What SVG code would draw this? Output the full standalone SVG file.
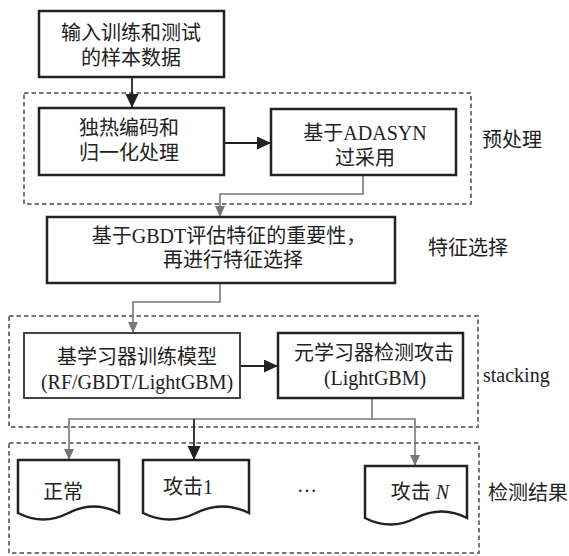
<svg xmlns="http://www.w3.org/2000/svg" width="569" height="556" viewBox="0 0 569 556">
<style>
text{font-family:"Liberation Serif","Noto Sans CJK SC",serif;font-size:20px;fill:#222;text-anchor:middle}
.lbl{text-anchor:start}
.box{fill:#fff;stroke:#222;stroke-width:2.5}
.box5{fill:#fff;stroke:#444;stroke-width:2}
.dash{fill:none;stroke:#777;stroke-width:2;stroke-dasharray:4.5 3}
.gc{fill:none;stroke:#777;stroke-width:1.6}
.bc{fill:none;stroke:#222;stroke-width:1.8}
.doc{fill:#fff;stroke:#222;stroke-width:2.5}
</style>
<defs>
<marker id="ab" markerUnits="userSpaceOnUse" markerWidth="14" markerHeight="14" refX="14" refY="6.5" orient="auto"><path d="M0,0 L14,6.5 L0,13 z" fill="#222"/></marker>
<marker id="ag" markerUnits="userSpaceOnUse" markerWidth="11" markerHeight="10" refX="11" refY="5" orient="auto"><path d="M0,0 L11,5 L0,10 z" fill="#777"/></marker>
</defs>
<g id="groups">
<rect class="dash" x="24" y="93" width="447" height="111"/>
<rect class="dash" x="9" y="316" width="469" height="111"/>
<rect class="dash" x="9" y="443" width="470" height="110"/>
</g>
<g id="connectors">
<line class="bc" x1="132" y1="77" x2="132" y2="108" marker-end="url(#ab)"/>
<line class="bc" x1="224" y1="143" x2="271" y2="143" marker-end="url(#ab)"/>
<polyline class="gc" points="363,175 363,194 220,194 220,217" marker-end="url(#ag)"/>
<polyline class="gc" points="220,283 220,302 133,302 133,333" marker-end="url(#ag)"/>
<line class="bc" x1="240" y1="366" x2="278" y2="366" marker-end="url(#ab)"/>
<polyline class="gc" points="372,398 372,419 69,419 69,460" marker-end="url(#ag)"/>
<polyline class="gc" points="372,419 415,419 415,466" marker-end="url(#ag)"/>
<line class="bc" x1="194" y1="419" x2="194" y2="460" marker-end="url(#ab)"/>
</g>
<g id="n1"><rect class="box" x="39" y="11" width="185" height="66"/><text x="131" y="40">输入训练和测试</text><text x="131" y="65">的样本数据</text></g>
<g id="n2"><rect class="box" x="39" y="108" width="185" height="67"/><text x="129" y="135">独热编码和</text><text x="129" y="160">归一化处理</text></g>
<g id="n3"><rect class="box" x="271" y="109" width="185" height="66"/><text x="365" y="140">基于ADASYN</text><text x="365" y="165">过采用</text></g>
<g id="n4"><rect class="box" x="47" y="217" width="348" height="66"/><text x="229" y="243">基于GBDT评估特征的重要性，</text><text x="233" y="267">再进行特征选择</text></g>
<g id="n5"><rect class="box5" x="24" y="333" width="216" height="65"/><text x="137" y="364">基学习器训练模型</text><text x="137" y="389">(RF/GBDT/LightGBM)</text></g>
<g id="n6"><rect class="box" x="278" y="333" width="185" height="65"/><text x="374" y="360">元学习器检测攻击</text><text x="375" y="385">(LightGBM)</text></g>
<g id="d1"><path class="doc" d="M18,513 L18,460 L119,460 L119,513 Q93.75,500 68.5,513 T18,513 Z"/><text x="63" y="499">正常</text></g>
<g id="d2"><path class="doc" d="M143,513 L143,460 L249,460 L249,513 Q222.5,500 196,513 T143,513 Z"/><text x="188" y="494">攻击1</text></g>
<g id="d3"><path class="doc" d="M365,518 L365,466 L467,466 L467,518 Q441.5,505 416,518 T365,518 Z"/><text x="420" y="499">攻击 <tspan font-style="italic">N</tspan></text></g>
<g id="dots"><text x="307" y="492">…</text></g>
<g id="labels">
<text class="lbl" x="482" y="147">预处理</text>
<text class="lbl" x="428" y="255">特征选择</text>
<text class="lbl" x="483" y="382">stacking</text>
<text class="lbl" x="488" y="500">检测结果</text>
</g>
</svg>
